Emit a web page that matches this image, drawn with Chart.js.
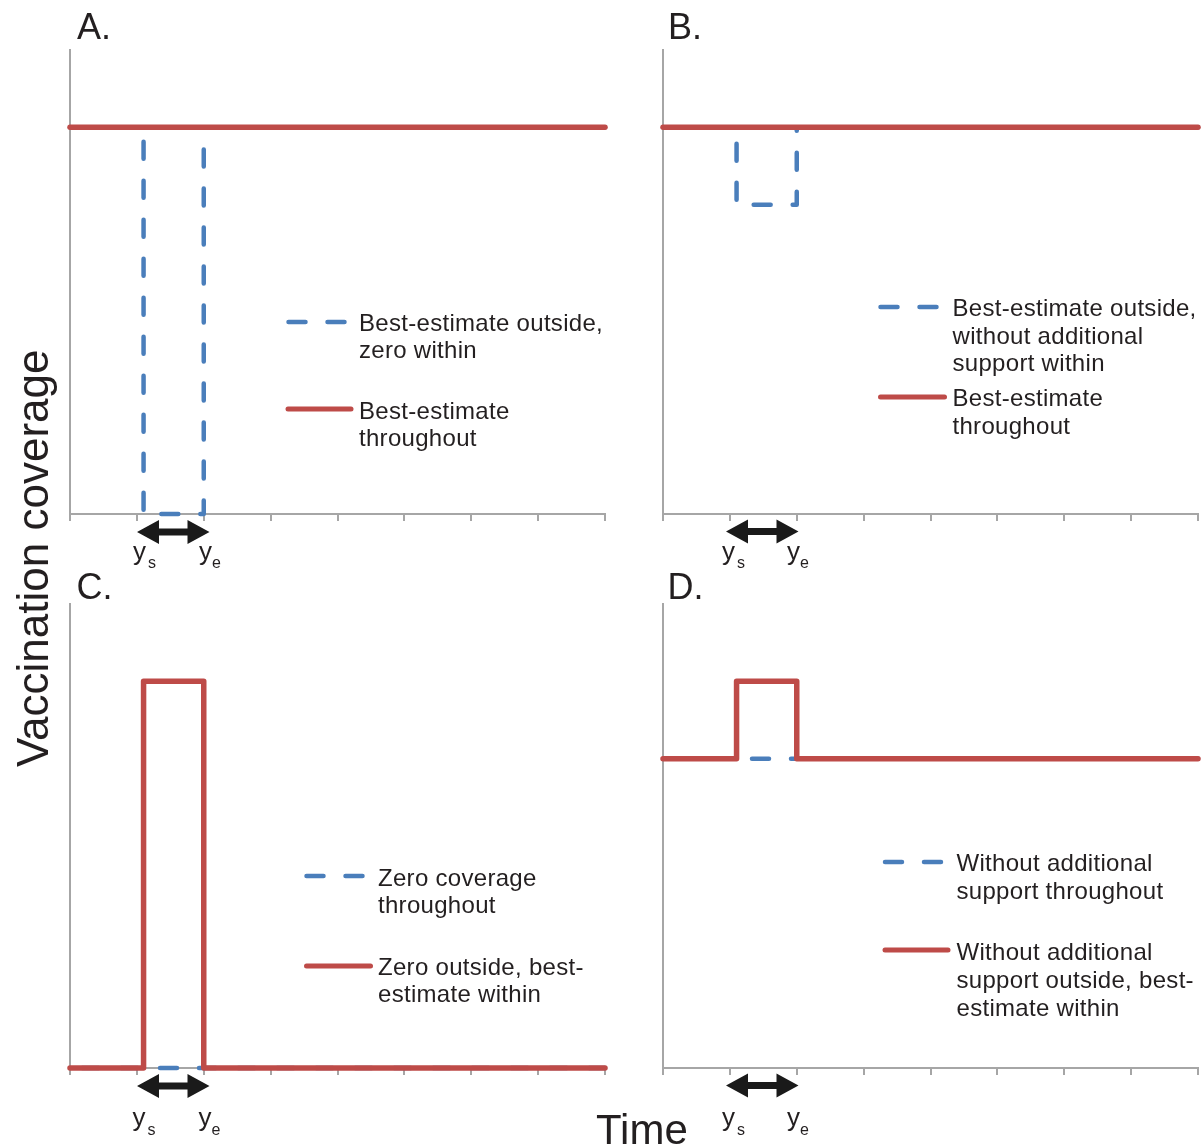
<!DOCTYPE html>
<html>
<head>
<meta charset="utf-8">
<script src="https://cdn.jsdelivr.net/npm/chart.js@4/dist/chart.umd.min.js"></script>
<style>
html,body{margin:0;padding:0;background:#fff;overflow:hidden}
#wrap{position:relative;width:1201px;height:1148px;font-family:"Liberation Sans",Arial,Helvetica,sans-serif;color:#231f20}
canvas{position:absolute;left:0;top:0}
.t{position:absolute;white-space:nowrap;line-height:1}
</style>
</head>
<body>
<div id="wrap">
<canvas id="cA" width="1201" height="1148"></canvas>
<canvas id="cB" width="1201" height="1148"></canvas>
<canvas id="cC" width="1201" height="1148"></canvas>
<canvas id="cD" width="1201" height="1148"></canvas>
</div>
<script>
// ---------- data ----------
const timeRange = [0, 8];          // time axis (tick every 1 unit)
const coverageRange = [0, 1.2];    // vaccination coverage axis

// Panel A
const aBlueX = [0, 1.1, 1.1, 2.0, 2.0, 8];
const aBlueY = [1, 1, 0, 0, 1, 1];
const aRedX  = [0, 8];
const aRedY  = [1, 1];
// Panel B
const bBlueX = [0, 1.1, 1.1, 2.0, 2.0, 8];
const bBlueY = [1, 1, 0.8, 0.8, 1, 1];
const bRedX  = [0, 8];
const bRedY  = [1, 1];
// Panel C
const cBlueX = [0, 8];
const cBlueY = [0, 0];
const cRedX  = [0, 1.1, 1.1, 2.0, 2.0, 8];
const cRedY  = [0, 0, 1, 1, 0, 0];
// Panel D
const dBlueX = [0, 8];
const dBlueY = [0.8, 0.8];
const dRedX  = [0, 1.1, 1.1, 2.0, 2.0, 8];
const dRedY  = [0.8, 0.8, 1, 1, 0.8, 0.8];

const panelLetters = ['A.', 'B.', 'C.', 'D.'];
const legendA = [['Best-estimate outside,', 'zero within'], ['Best-estimate', 'throughout']];
const legendB = [['Best-estimate outside,', 'without additional', 'support within'], ['Best-estimate', 'throughout']];
const legendC = [['Zero coverage', 'throughout'], ['Zero outside, best-', 'estimate within']];
const legendD = [['Without additional', 'support throughout'], ['Without additional', 'support outside, best-', 'estimate within']];
const yTitle = 'Vaccination coverage';
const xTitle = 'Time';

// ---------- styles ----------
const BLUE = '#4a7ebb';
const RED = '#be4b48';
const AXIS = '#a6a6a6';
const LWB = 4.5, LWR = 5.5;
const DASH = [17, 22];
const W = 1201, H = 1148, TICK = 7;

function pts(xs, ys) { return xs.map((x, i) => ({x: x, y: ys[i]})); }

const decor = {
  id: 'decor',
  afterDatasetsDraw(chart, args, o) {
    const ctx = chart.ctx;
    ctx.save();
    (o.samples || []).forEach(s => {
      ctx.beginPath();
      ctx.lineWidth = s.dash ? LWB : 5;
      ctx.strokeStyle = s.color;
      ctx.lineCap = 'round';
      ctx.setLineDash(s.dash || []);
      ctx.moveTo(s.x1, s.y);
      ctx.lineTo(s.x2, s.y);
      ctx.stroke();
    });
    ctx.setLineDash([]);
    if (o.arrow) {
      const a = o.arrow, hl = 22, hh = 12, st = 3.5;
      ctx.fillStyle = '#1a1a1a';
      ctx.beginPath();
      ctx.moveTo(a.x1, a.y);
      ctx.lineTo(a.x1 + hl, a.y - hh);
      ctx.lineTo(a.x1 + hl, a.y - st);
      ctx.lineTo(a.x2 - hl, a.y - st);
      ctx.lineTo(a.x2 - hl, a.y - hh);
      ctx.lineTo(a.x2, a.y);
      ctx.lineTo(a.x2 - hl, a.y + hh);
      ctx.lineTo(a.x2 - hl, a.y + st);
      ctx.lineTo(a.x1 + hl, a.y + st);
      ctx.lineTo(a.x1 + hl, a.y + hh);
      ctx.closePath();
      ctx.fill();
    }
    ctx.restore();
  }
};

function makeChart(id, area, blue, red, dashOffset, dec) {
  return new Chart(document.getElementById(id), {
    type: 'line',
    data: {
      datasets: [
        {data: blue, borderColor: BLUE, borderWidth: LWB, borderDash: DASH, borderDashOffset: dashOffset,
         borderCapStyle: 'round', borderJoinStyle: 'round', pointRadius: 0, tension: 0, fill: false, order: 2, clip: 8},
        {data: red, borderColor: RED, borderWidth: LWR, borderCapStyle: 'round',
         borderJoinStyle: 'round', pointRadius: 0, tension: 0, fill: false, order: 1, clip: 8}
      ]
    },
    options: {
      responsive: false, animation: false, events: [],
      layout: {autoPadding: false, padding: {left: area.l, top: area.t, right: W - area.r, bottom: H - area.b - TICK}},
      plugins: {legend: {display: false}, tooltip: {enabled: false}, decor: dec},
      scales: {
        x: {type: 'linear', min: timeRange[0], max: timeRange[1],
            ticks: {display: false, stepSize: 1},
            grid: {drawOnChartArea: false, drawTicks: true, tickLength: TICK, color: AXIS, lineWidth: 2},
            border: {display: true, color: AXIS, width: 2}},
        y: {type: 'linear', min: coverageRange[0], max: coverageRange[1],
            ticks: {display: false},
            grid: {display: false, drawTicks: false, tickLength: 0},
            border: {display: true, color: AXIS, width: 2}}
      }
    },
    plugins: [decor]
  });
}

makeChart('cA', {l: 70, t: 50, r: 605, b: 514}, pts(aBlueX, aBlueY), pts(aRedX, aRedY), 29, {
  samples: [{color: BLUE, dash: DASH, x1: 288.5, x2: 345, y: 322}, {color: RED, x1: 288, x2: 351, y: 409}],
  arrow: {x1: 137, x2: 209.5, y: 532}
});
makeChart('cB', {l: 663, t: 50, r: 1198, b: 514}, pts(bBlueX, bBlueY), pts(bRedX, bRedY), 27, {
  samples: [{color: BLUE, dash: DASH, x1: 880.5, x2: 937, y: 307}, {color: RED, x1: 880.5, x2: 944.5, y: 397}],
  arrow: {x1: 726, x2: 798.5, y: 531.5}
});
makeChart('cC', {l: 70, t: 604, r: 605, b: 1068}, pts(cBlueX, cBlueY), pts(cRedX, cRedY), 27, {
  samples: [{color: BLUE, dash: DASH, x1: 306.5, x2: 363, y: 876}, {color: RED, x1: 306.5, x2: 370.5, y: 966}],
  arrow: {x1: 137, x2: 209.5, y: 1086}
});
makeChart('cD', {l: 663, t: 604, r: 1198, b: 1068}, pts(dBlueX, dBlueY), pts(dRedX, dRedY), 28, {
  samples: [{color: BLUE, dash: DASH, x1: 885, x2: 941.5, y: 862}, {color: RED, x1: 885, x2: 948, y: 950}],
  arrow: {x1: 726, x2: 798.5, y: 1085.5}
});

// ---------- text ----------
const wrap = document.getElementById('wrap');
const ASC = 0.8465; // baseline offset for line-height:1 (Liberation Sans)
function text(str, x, baseline, fs, extra) {
  const d = document.createElement('div');
  d.className = 't';
  d.textContent = str;
  d.style.left = x + 'px';
  d.style.top = (baseline - ASC * fs) + 'px';
  d.style.fontSize = fs + 'px';
  if (extra) Object.assign(d.style, extra);
  wrap.appendChild(d);
  return d;
}
function legend(groups, x, baselines) {
  let k = 0;
  groups.forEach(g => g.forEach(line => {
    text(line, x, baselines[k++], 24, {letterSpacing: '0.3px'});
  }));
}
legend(legendA, 359, [331, 358.5, 419, 446]);
legend(legendB, 952.5, [316.7, 344.3, 371.7, 406.7, 434]);
legend(legendC, 378, [886, 913.5, 975, 1002.5]);
legend(legendD, 956.5, [871.7, 899.3, 960, 988, 1016]);

text(panelLetters[0], 77, 39.5, 36);
text(panelLetters[1], 668, 39.5, 36);
text(panelLetters[2], 76.5, 599, 36);
text(panelLetters[3], 667.5, 599, 36);

function ylab(sub, x, xs, base) {
  text('y', x, base, 26);
  text(sub, xs, base + 9, 16);
}
[[133, 199, 560], [722, 787, 560], [132.5, 198.6, 1126.5], [722, 787, 1126.5]].forEach(p => {
  ylab('s', p[0], p[0] + 15, p[2]);
  ylab('e', p[1], p[1] + 13, p[2]);
});

const yt = text(yTitle, 11, 0, 44);
yt.style.top = '767px';
yt.style.transformOrigin = '0 0';
yt.style.transform = 'rotate(-90deg)';
text(xTitle, 596, 1145, 42);
</script>
</body>
</html>
